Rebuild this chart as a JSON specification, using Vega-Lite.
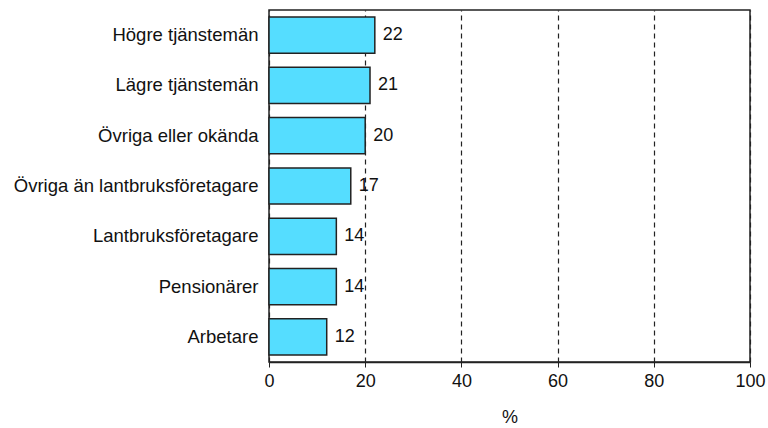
{
  "$schema": "https://vega.github.io/schema/vega-lite/v6.json",
  "width": 481,
  "height": 352,
  "autosize": {"type": "none"},
  "padding": {"left": 269, "top": 10, "right": 18, "bottom": 66},
  "background": "white",
  "config": {
    "view": {"stroke": "#222222", "strokeWidth": 1.5},
    "font": "Liberation Sans"
  },
  "data": {
    "values": [
      {"group": "Högre tjänstemän", "value": 22},
      {"group": "Lägre tjänstemän", "value": 21},
      {"group": "Övriga eller okända", "value": 20},
      {"group": "Övriga än lantbruksföretagare", "value": 17},
      {"group": "Lantbruksföretagare", "value": 14},
      {"group": "Pensionärer", "value": 14},
      {"group": "Arbetare", "value": 12}
    ]
  },
  "encoding": {
    "y": {
      "field": "group",
      "type": "nominal",
      "sort": null,
      "scale": {"paddingInner": 0.28, "paddingOuter": 0.14},
      "axis": {
        "title": null,
        "ticks": false,
        "domain": false,
        "labelFontSize": 18.5,
        "labelColor": "#111111",
        "labelPadding": 11,
        "labelLimit": 300
      }
    },
    "x": {
      "field": "value",
      "type": "quantitative",
      "scale": {"domain": [0, 100], "nice": false},
      "axis": {
        "values": [0, 20, 40, 60, 80, 100],
        "title": "%",
        "titleFontSize": 18,
        "titleFontWeight": "normal",
        "titleColor": "#111111",
        "titlePadding": 18,
        "labelFontSize": 18,
        "labelColor": "#111111",
        "labelPadding": 5,
        "labelFlush": false,
        "labelOverlap": false,
        "tickColor": "#222222",
        "tickSize": 5,
        "domainColor": "#222222",
        "domainWidth": 1.5,
        "grid": true,
        "gridColor": "#222222",
        "gridDash": [5, 4],
        "gridWidth": 1.2
      }
    }
  },
  "layer": [
    {
      "mark": {"type": "bar", "fill": "#55DDFF", "stroke": "#222222", "strokeWidth": 1.5}
    },
    {
      "mark": {"type": "text", "align": "left", "dx": 8, "fontSize": 18, "color": "#111111"},
      "encoding": {"text": {"field": "value", "type": "quantitative"}}
    }
  ]
}
